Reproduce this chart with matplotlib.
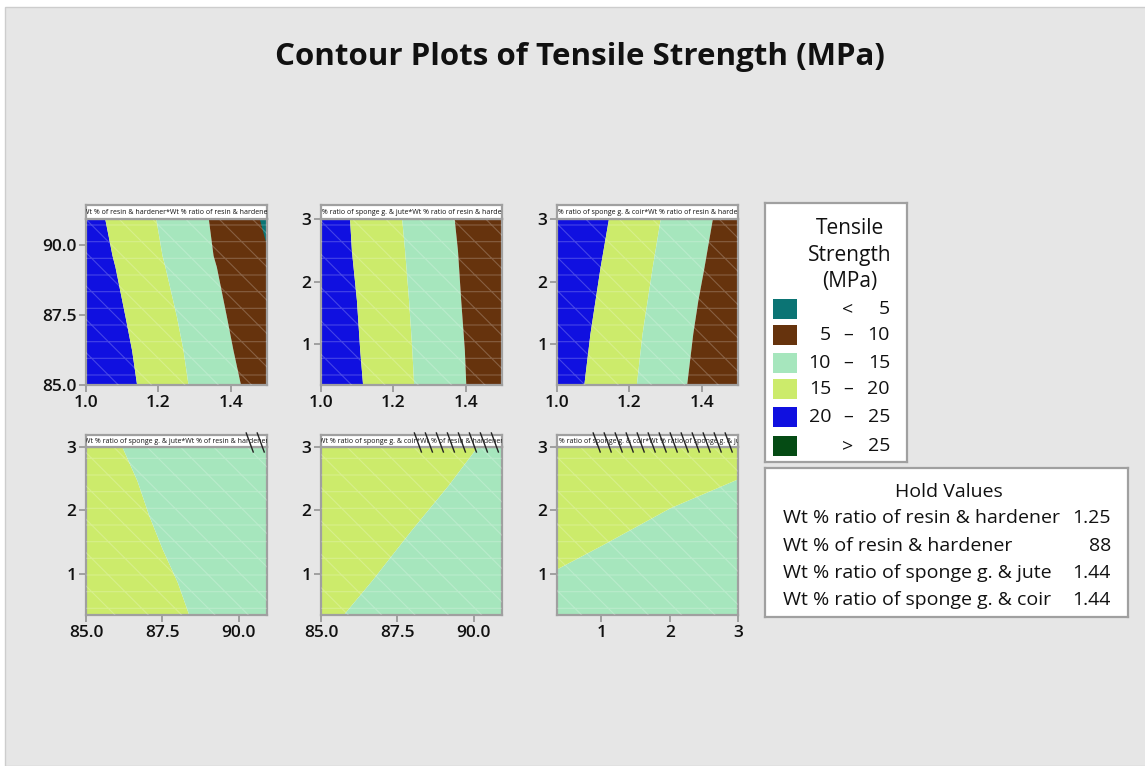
import matplotlib
matplotlib.use('Agg')
import matplotlib.pyplot as plt
from matplotlib.patches import Rectangle
import matplotlib.transforms as mtransforms

W, H = 1145, 766
plt.rcParams['font.family'] = ['Open Sans', 'DejaVu Sans']
plt.rcParams['hatch.linewidth'] = 0.8

# ---------------- colours of the contour levels ----------------
C_LT5 = '#0b7474'
C_5_10 = '#66330d'
C_10_15 = '#a6e6bd'
C_15_20 = '#cceb6b'
C_20_25 = '#1010e0'
C_GT25 = '#054b14'

# ---------------- legend data ----------------
legend_colors = [C_LT5, C_5_10, C_10_15, C_15_20, C_20_25, C_GT25]
legend_lo = ['', '5', '10', '15', '20', '']
legend_sym = ['<', '\u2013', '\u2013', '\u2013', '\u2013', '>']
legend_hi = ['5', '10', '15', '20', '25', '25']

hold_names = ['Wt % ratio of resin & hardener', 'Wt % of resin & hardener',
              'Wt % ratio of sponge g. & jute', 'Wt % ratio of sponge g. & coir']
hold_vals = ['1.25', '88', '1.44', '1.44']

# ---------------- panel data (boundaries) ----------------
# Panel 1: y = Wt % of resin & hardener, x = Wt % ratio of resin & hardener
p1_title = 'Wt % of resin & hardener*Wt % ratio of resin & hardener'
p1_xlim = (1.0, 1.5)
p1_ylim = (85.0, 90.93)
p1_xticks = [1.0, 1.2, 1.4]
p1_yticks = [85.0, 87.5, 90.0]
p1_y = [85.0, 86.25, 87.44, 89.23, 89.63, 90.93]
p1_bounds = [[1.140, 1.126, 1.108, 1.080, 1.072, 1.052],
             [1.282, 1.268, 1.250, 1.218, 1.210, 1.193],
             [1.427, 1.406, 1.388, 1.360, 1.351, 1.338]]
p1_colors = [C_20_25, C_15_20, C_10_15, C_5_10]
p1_teal_y = [89.95, 90.4, 90.93]
p1_teal_x = [1.5, 1.49, 1.479]

# Panel 2: y = Wt % ratio of sponge g. & jute, x = Wt % ratio of resin & hardener
p2_title = 'Wt % ratio of sponge g. & jute*Wt % ratio of resin & hardener'
p2_xlim = (1.0, 1.5)
p2_ylim = (0.35, 3.0)
p2_xticks = [1.0, 1.2, 1.4]
p2_yticks = [1, 2, 3]
p2_y = [0.35, 0.91, 1.70, 2.50, 3.0]
p2_bounds = [[1.115, 1.107, 1.098, 1.084, 1.079],
             [1.256, 1.251, 1.242, 1.231, 1.223],
             [1.400, 1.396, 1.386, 1.377, 1.368]]
p2_colors = [C_20_25, C_15_20, C_10_15, C_5_10]

# Panel 3: y = Wt % ratio of sponge g. & coir, x = Wt % ratio of resin & hardener
p3_title = 'Wt % ratio of sponge g. & coir*Wt % ratio of resin & hardener'
p3_xlim = (1.0, 1.5)
p3_ylim = (0.35, 3.0)
p3_xticks = [1.0, 1.2, 1.4]
p3_yticks = [1, 2, 3]
p3_y = [0.35, 1.17, 1.70, 2.23, 3.0]
p3_bounds = [[1.074, 1.091, 1.105, 1.119, 1.142],
             [1.219, 1.235, 1.249, 1.263, 1.285],
             [1.358, 1.375, 1.389, 1.406, 1.429]]
p3_colors = [C_20_25, C_15_20, C_10_15, C_5_10]

# Panel 4: y = Wt % ratio of sponge g. & jute, x = Wt % of resin & hardener
p4_title = 'Wt % ratio of sponge g. & jute*Wt % of resin & hardener'
p4_xlim = (85.0, 90.93)
p4_ylim = (0.35, 3.0)
p4_xticks = [85.0, 87.5, 90.0]
p4_yticks = [1, 2, 3]
p4_y = [0.35, 0.87, 1.40, 1.93, 2.47, 3.0]
p4_bounds = [[88.37, 87.99, 87.49, 87.05, 86.67, 86.18]]
p4_colors = [C_15_20, C_10_15]
p4_hatch = (90.25, 90.93)

# Panel 5: y = Wt % ratio of sponge g. & coir, x = Wt % of resin & hardener
p5_title = 'Wt % ratio of sponge g. & coir*Wt % of resin & hardener'
p5_xlim = (85.0, 90.93)
p5_ylim = (0.35, 3.0)
p5_xticks = [85.0, 87.5, 90.0]
p5_yticks = [1, 2, 3]
p5_y = [0.35, 0.9, 1.68, 2.4, 3.0]
p5_bounds = [[85.72, 86.67, 87.94, 89.17, 90.11]]
p5_colors = [C_15_20, C_10_15]
p5_hatch = (88.06, 90.93)

# Panel 6: y = Wt % ratio of sponge g. & coir, x = Wt % ratio of sponge g. & jute
p6_title = 'Wt % ratio of sponge g. & coir*Wt % ratio of sponge g. & jute'
p6_xlim = (0.35, 3.0)
p6_ylim = (0.35, 3.0)
p6_xticks = [1, 2, 3]
p6_yticks = [1, 2, 3]
p6_x = [0.35, 1.0, 2.0, 3.0]
p6_bound = [1.08, 1.45, 2.04, 2.5]
p6_hatch = (0.88, 3.0)

# ---------------- figure ----------------
fig = plt.figure(figsize=(W / 100, H / 100), dpi=100, facecolor='white')
fig.patches.append(Rectangle((5 / W, 0), 1, 1 - 7 / H, transform=fig.transFigure,
                             facecolor='#e6e6e6', edgecolor='#cdcdcd', lw=1.0, zorder=-10))


def px_axes(x0, y0, x1, y1, **kw):
    return fig.add_axes([x0 / W, 1 - y1 / H, (x1 - x0) / W, (y1 - y0) / H], **kw)


FRAME = '#a0a0a0'
TXT = '#111111'


def style(ax, xlim, ylim, xticks, yticks, fmt):
    ax.set_xlim(*xlim)
    ax.set_ylim(*ylim)
    ax.set_xticks(xticks)
    ax.set_yticks(yticks)
    ax.set_xticklabels([fmt[0].format(v) for v in xticks], fontweight='semibold')
    ax.set_yticklabels([fmt[1].format(v) for v in yticks], fontweight='semibold')
    for s in ax.spines.values():
        s.set_color(FRAME)
        s.set_linewidth(1.6)
    ax.tick_params(direction='out', length=5, width=1.4, color=FRAME,
                   labelcolor=TXT, labelsize=12.5, pad=2)
    # faint white mesh texture of the fitted surface
    ax.add_patch(Rectangle((0, 0), 1, 1, transform=ax.transAxes, fill=False,
                           hatch='-\\', edgecolor=(1, 1, 1, 0.22), lw=0, zorder=3))


def strip(x0, x1, y0, y1, title, xlim=None, hatch=None):
    sax = px_axes(x0, y0, x1, y1)
    sax.set_facecolor('white')
    sax.set_xticks([])
    sax.set_yticks([])
    for s in sax.spines.values():
        s.set_color(FRAME)
        s.set_linewidth(1.6)
    t = sax.text(0.5, 0.45, title, ha='center', va='center', fontsize=5.0,
                 transform=sax.transAxes, color=TXT)
    t.set_clip_on(True)
    if hatch is not None:
        sax.set_xlim(*xlim)
        ppu = (x1 - x0) / (xlim[1] - xlim[0])
        step = 11.0 / ppu
        dx = 7.0 / ppu
        h = (y1 - y0)
        trans = mtransforms.blended_transform_factory(sax.transData, sax.transAxes)
        xs = hatch[0]
        while xs + dx <= xlim[1] + 1e-9:
            sax.plot([xs, xs + dx], [1 + 2 / h, -5 / h], color='#222222', lw=1.0,
                     transform=trans, clip_on=False, zorder=5)
            xs += step
    return sax


def vertical_regions(ax, y, bounds, colors, xlim):
    edges = [[xlim[0]] * len(y)] + bounds + [[xlim[1]] * len(y)]
    for i, c in enumerate(colors):
        ax.fill_betweenx(y, edges[i], edges[i + 1], color=c, lw=0)


cols = [(86, 267), (321, 502), (557, 738)]
row1 = (205, 219, 385)
row2 = (435, 447, 615)

# Panel 1
ax1 = px_axes(cols[0][0], row1[1], cols[0][1], row1[2])
vertical_regions(ax1, p1_y, p1_bounds, p1_colors, p1_xlim)
ax1.fill_betweenx(p1_teal_y, p1_teal_x, p1_xlim[1], color=C_LT5, lw=0)
style(ax1, p1_xlim, p1_ylim, p1_xticks, p1_yticks, ('{:.1f}', '{:.1f}'))
strip(cols[0][0], cols[0][1], row1[0], row1[1], p1_title)

# Panel 2
ax2 = px_axes(cols[1][0], row1[1], cols[1][1], row1[2])
vertical_regions(ax2, p2_y, p2_bounds, p2_colors, p2_xlim)
style(ax2, p2_xlim, p2_ylim, p2_xticks, p2_yticks, ('{:.1f}', '{:d}'))
strip(cols[1][0], cols[1][1], row1[0], row1[1], p2_title)

# Panel 3
ax3 = px_axes(cols[2][0], row1[1], cols[2][1], row1[2])
vertical_regions(ax3, p3_y, p3_bounds, p3_colors, p3_xlim)
style(ax3, p3_xlim, p3_ylim, p3_xticks, p3_yticks, ('{:.1f}', '{:d}'))
strip(cols[2][0], cols[2][1], row1[0], row1[1], p3_title)

# Panel 4
ax4 = px_axes(cols[0][0], row2[1], cols[0][1], row2[2])
vertical_regions(ax4, p4_y, p4_bounds, p4_colors, p4_xlim)
style(ax4, p4_xlim, p4_ylim, p4_xticks, p4_yticks, ('{:.1f}', '{:d}'))
strip(cols[0][0], cols[0][1], row2[0], row2[1], p4_title, p4_xlim, p4_hatch)

# Panel 5
ax5 = px_axes(cols[1][0], row2[1], cols[1][1], row2[2])
vertical_regions(ax5, p5_y, p5_bounds, p5_colors, p5_xlim)
style(ax5, p5_xlim, p5_ylim, p5_xticks, p5_yticks, ('{:.1f}', '{:d}'))
strip(cols[1][0], cols[1][1], row2[0], row2[1], p5_title, p5_xlim, p5_hatch)

# Panel 6
ax6 = px_axes(cols[2][0], row2[1], cols[2][1], row2[2])
ax6.fill_between(p6_x, p6_ylim[0], p6_bound, color=C_10_15, lw=0)
ax6.fill_between(p6_x, p6_bound, p6_ylim[1], color=C_15_20, lw=0)
style(ax6, p6_xlim, p6_ylim, p6_xticks, p6_yticks, ('{:d}', '{:d}'))
strip(cols[2][0], cols[2][1], row2[0], row2[1], p6_title, p6_xlim, p6_hatch)

# ---------------- title ----------------
fig.text(580 / W, 1 - 57 / H, 'Contour Plots of Tensile Strength (MPa)', ha='center',
         va='center', fontsize=22.5, fontweight='bold', color=TXT)

# ---------------- legend box ----------------
lx0, ly0, lx1, ly1 = 765, 203, 907, 462
lax = px_axes(lx0, ly0, lx1, ly1)
lax.set_xlim(0, lx1 - lx0)
lax.set_ylim(ly1 - ly0, 0)
lax.set_xticks([])
lax.set_yticks([])
lax.set_facecolor('white')
for s in lax.spines.values():
    s.set_color(FRAME)
    s.set_linewidth(1.6)
for i, line in enumerate(['Tensile', 'Strength', '(MPa)']):
    lax.text(85, 26 + 26 * i, line, ha='center', va='center', fontsize=15, color=TXT,
             fontweight='medium')
row_y = [106, 132, 160, 186, 214, 243]
for i, c in enumerate(legend_colors):
    yc = row_y[i]
    lax.add_patch(Rectangle((8, yc - 10), 24, 20, facecolor=c, edgecolor='none'))
    if legend_lo[i]:
        lax.text(66, yc, legend_lo[i], ha='right', va='center', fontsize=14, color=TXT,
                 fontweight='medium')
    lax.text(83, yc, legend_sym[i], ha='center', va='center', fontsize=14, color=TXT,
             fontweight='medium')
    lax.text(125, yc, legend_hi[i], ha='right', va='center', fontsize=14, color=TXT,
             fontweight='medium')

# ---------------- hold values box ----------------
hx0, hy0, hx1, hy1 = 765, 468, 1128, 617
hax = px_axes(hx0, hy0, hx1, hy1)
hax.set_xlim(0, hx1 - hx0)
hax.set_ylim(hy1 - hy0, 0)
hax.set_xticks([])
hax.set_yticks([])
hax.set_facecolor('white')
for s in hax.spines.values():
    s.set_color(FRAME)
    s.set_linewidth(1.6)
hax.text(184, 24, 'Hold Values', ha='center', va='center', fontsize=14, color=TXT,
         fontweight='medium')
hold_y = [50, 78, 105, 132]
for i, (n, v) in enumerate(zip(hold_names, hold_vals)):
    hax.text(18, hold_y[i], n, ha='left', va='center', fontsize=14, color=TXT,
             fontweight='medium')
    hax.text(346, hold_y[i], v, ha='right', va='center', fontsize=14, color=TXT,
             fontweight='medium')

fig.savefig('out.png', dpi=100, facecolor=fig.get_facecolor())
